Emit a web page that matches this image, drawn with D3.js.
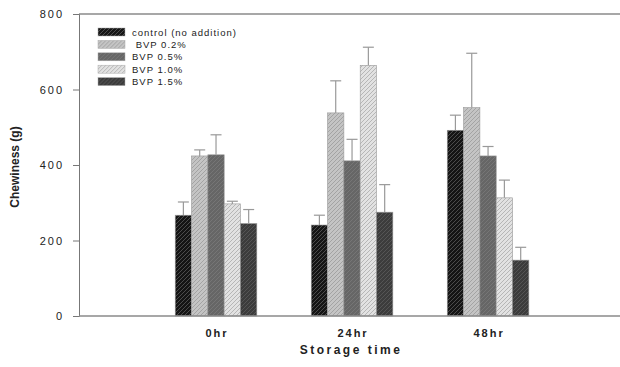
<!DOCTYPE html>
<html>
<head>
<meta charset="utf-8">
<script src="https://cdn.jsdelivr.net/npm/d3@7"></script>
<style>
  body { margin: 0; background: #fff; }
  text { font-family: "Liberation Sans", Arial, sans-serif; fill: #222; }
</style>
</head>
<body>
<div id="chart"></div>
<script>
// data
var times = ["0hr", "24hr", "48hr"];
var series = ["control (no addition)", " BVP 0.2%", "BVP 0.5%", "BVP 1.0%", "BVP 1.5%"];
var means = [
  [267, 241, 492],   // control
  [424, 538, 552],   // BVP 0.2
  [427, 411, 424],   // BVP 0.5
  [297, 664, 313],   // BVP 1.0
  [245, 275, 148]    // BVP 1.5
];
var errTops = [
  [302, 267, 532],
  [440, 623, 696],
  [480, 468, 449],
  [304, 712, 360],
  [282, 348, 182]
];
var yTicks = [0, 200, 400, 600, 800];

var fills = ["#151515", "#c4c4c4", "#666666", "#e2e2e2", "#3c3c3c"];
var hatch = ["#5a5a5a", "#9a9a9a", "#7a7a7a", "#ababab", "#5c5c5c"];

var W = 620, H = 367;
var m = {top: 14, left: 79, bottom: 316, right: 620};

var svg = d3.select("#chart").append("svg")
  .attr("width", W).attr("height", H);

var defs = svg.append("defs");
fills.forEach(function(f, i) {
  var p = defs.append("pattern")
    .attr("id", "hatch" + i)
    .attr("patternUnits", "userSpaceOnUse")
    .attr("width", 4).attr("height", 4);
  p.append("rect").attr("width", 4).attr("height", 4).attr("fill", f);
  p.append("path")
    .attr("d", "M-1,1 l2,-2 M0,4 l4,-4 M3,5 l2,-2")
    .attr("stroke", hatch[i]).attr("stroke-width", 0.8);
});

// scales
var x = d3.scaleLinear().domain([0, 3.97]).range([80, 620]);
var y = d3.scaleLinear().domain([0, 800]).range([m.bottom, m.top]);
var groupW = 0.6;
var barW = (x(1) - x(0)) * groupW / series.length;

// frame top line
svg.append("line")
  .attr("x1", m.left).attr("x2", m.right)
  .attr("y1", y(800)).attr("y2", y(800))
  .attr("stroke", "#8a8a8a").attr("stroke-width", 1.5);

// y axis
var yAxis = svg.append("g")
  .attr("transform", "translate(" + m.left + ",0)")
  .call(d3.axisLeft(y).tickValues(yTicks).tickSize(6).tickPadding(9));
yAxis.select(".domain").attr("stroke", "#777");
yAxis.selectAll(".tick line").attr("stroke", "#777");
yAxis.selectAll(".tick text")
  .attr("font-size", 11).style("letter-spacing", "2px")
  .attr("fill", "#222").attr("font-family", "Liberation Sans, Arial, sans-serif");

// bars
series.forEach(function(s, si) {
  var g = svg.append("g");
  times.forEach(function(t, ti) {
    var cx = x(ti + 1) - (x(1) - x(0)) * groupW / 2 + barW * si;
    var v = means[si][ti];
    g.append("rect")
      .attr("x", cx).attr("width", barW)
      .attr("y", y(v)).attr("height", y(0) - y(v))
      .attr("fill", "url(#hatch" + si + ")")
      .attr("stroke", "#999").attr("stroke-width", 0.6);
    var e = errTops[si][ti];
    var mx = cx + barW / 2;
    g.append("line")
      .attr("x1", mx).attr("x2", mx)
      .attr("y1", y(v)).attr("y2", y(e))
      .attr("stroke", "#999").attr("stroke-width", 1.2);
    g.append("line")
      .attr("x1", mx - 5.5).attr("x2", mx + 5.5)
      .attr("y1", y(e)).attr("y2", y(e))
      .attr("stroke", "#999").attr("stroke-width", 1.2);
  });
});

// x axis line
svg.append("line")
  .attr("x1", m.left).attr("x2", m.right)
  .attr("y1", y(0)).attr("y2", y(0))
  .attr("stroke", "#8a8a8a").attr("stroke-width", 1.5);

// category labels
svg.append("g").selectAll("text")
  .data(times).enter().append("text")
  .attr("x", function(d, i) { return x(i + 1) + 1; })
  .attr("y", 337)
  .attr("text-anchor", "middle")
  .attr("font-size", 11).attr("font-weight", "bold")
  .style("letter-spacing", "2px")
  .text(function(d) { return d; });

// axis titles
svg.append("text")
  .attr("x", 351).attr("y", 354)
  .attr("text-anchor", "middle")
  .attr("font-size", 12).attr("font-weight", "bold")
  .style("letter-spacing", "2.5px")
  .text("Storage time");

svg.append("text")
  .attr("transform", "translate(19,167) rotate(-90)")
  .attr("text-anchor", "middle")
  .attr("font-size", 12).attr("font-weight", "bold")
  .text("Chewiness (g)");

// legend
var legend = svg.append("g").selectAll("g")
  .data(series).enter().append("g")
  .attr("transform", function(d, i) { return "translate(98," + (32 + 12.4 * i) + ")"; });
legend.append("rect")
  .attr("x", 0).attr("y", -4).attr("width", 27).attr("height", 8)
  .attr("fill", function(d, i) { return "url(#hatch" + i + ")"; })
  .attr("stroke", "#aaa").attr("stroke-width", 0.5);
legend.append("text")
  .attr("x", 34).attr("y", 3.5)
  .attr("font-size", 9.5)
  .style("letter-spacing", "1px")
  .style("white-space", "pre")
  .attr("xml:space", "preserve")
  .text(function(d) { return d; });
</script>
</body>
</html>
